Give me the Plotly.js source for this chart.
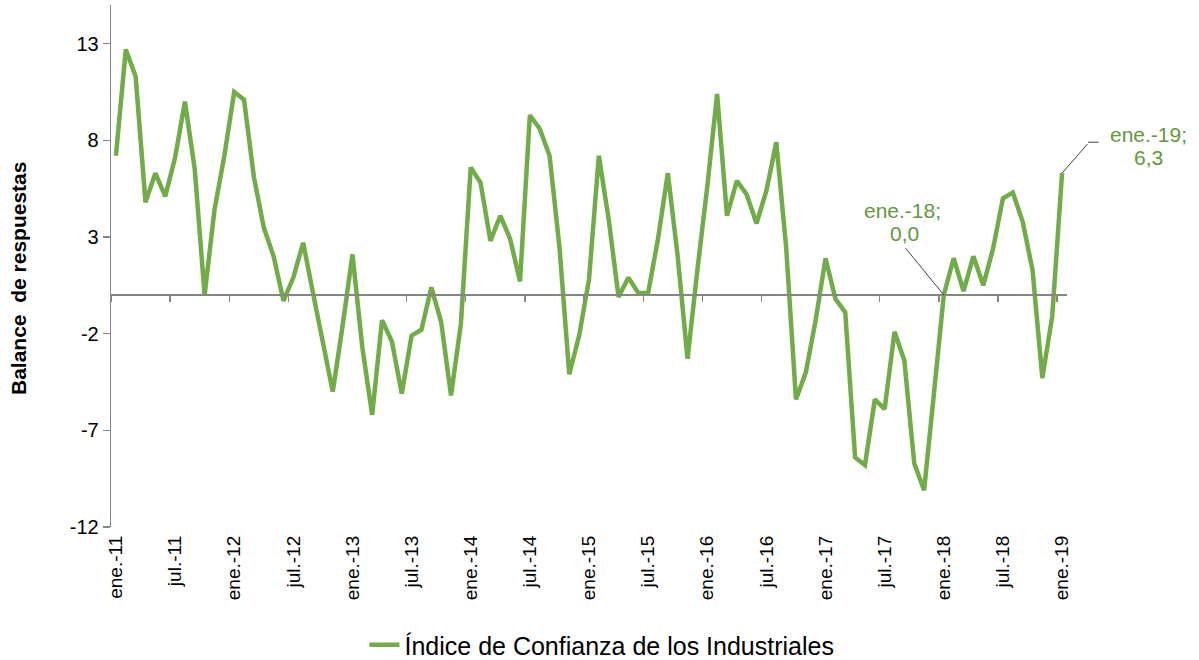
<!DOCTYPE html>
<html>
<head>
<meta charset="utf-8">
<script src="https://cdn.plot.ly/plotly-3.0.1.min.js"></script>
<style>html,body{margin:0;padding:0;background:#fff;}</style>
</head>
<body>
<div id="chart" style="width:1199px;height:660px;"></div>
<script>
// ---- data ----
const monthNames = ['ene.','feb.','mar.','abr.','may.','jun.','jul.','ago.','sep.','oct.','nov.','dic.'];
const startYear = 11;
const seriesName = 'Índice de Confianza de los Industriales';
const yTitle = 'Balance\u00a0 de respuestas';
const values = [
  7.2, 12.7, 11.3, 4.8, 6.3, 5.1, 7.1, 10.0, 6.5, 0.0, 4.4, 7.2,
  10.5, 10.1, 6.1, 3.5, 2.0, -0.3, 0.9, 2.7, 0.1, -2.5, -5.0, -1.6,
  2.1, -2.7, -6.2, -1.3, -2.4, -5.1, -2.1, -1.8, 0.4, -1.4, -5.2, -1.5,
  6.6, 5.8, 2.8, 4.1, 2.9, 0.7, 9.3, 8.6, 7.2, 2.5, -4.1, -2.1,
  0.8, 7.2, 3.9, -0.1, 0.9, 0.1, 0.1, 2.9, 6.3, 2.0, -3.3, 1.3,
  5.6, 10.4, 4.1, 5.9, 5.2, 3.7, 5.4, 7.9, 2.5, -5.4, -4.0, -1.3,
  1.9, -0.2, -0.9, -8.4, -8.8, -5.4, -5.9, -1.9, -3.4, -8.7, -10.1, -5.1,
  0.0, 1.9, 0.2, 2.0, 0.5, 2.4, 5.0, 5.3, 3.8, 1.3, -4.3, -1.1,
  6.3
];
const yTickVals = [-12, -7, -2, 3, 8, 13];
const yRange = [-12, 15];
const labelStep = 6;
const labeledPoints = [84, 96]; // ene.-18 and ene.-19

// ---- derived ----
const labels = values.map((v, i) => monthNames[i % 12] + '-' + (startYear + Math.floor(i / 12)));
const idx = values.map((v, i) => i);
const tickIdx = idx.filter(i => i % labelStep === 0);
const tickText = tickIdx.map(i => labels[i]);
const boundaryTicks = tickIdx.map(i => i - 0.5);
const yTickText = yTickVals.map(v => String(v));
const fmt = v => v.toFixed(1).replace('.', ',');

const FONT = 'Liberation Sans, Arial, sans-serif';
const GREEN = '#70AD47';
const LABEL_GREEN = '#5f9a3b';
const AXIS = '#868686';
const xRange = [-0.5, values.length - 0.5];

const traces = [
  {
    x: idx, y: values, type: 'scatter', mode: 'lines', name: seriesName,
    line: {color: GREEN, width: 4.5}, hoverinfo: 'skip'
  },
  {
    x: [], y: [], type: 'scatter', mode: 'lines', xaxis: 'x2', yaxis: 'y',
    showlegend: false, hoverinfo: 'skip'
  }
];

const p1 = labeledPoints[0], p2 = labeledPoints[1];
const lblFont = {family: FONT, size: 21, color: LABEL_GREEN};
const annotations = [
  // y-axis title
  {x: 0, y: (527 - 279) / 522, xref: 'paper', yref: 'paper', xanchor: 'center', yanchor: 'middle',
   xshift: -93, text: '<b>' + yTitle + '</b>', textangle: -90, showarrow: false,
   font: {family: FONT, size: 21, color: '#000'}},
  // ene.-18 label
  {x: p1, y: values[p1], xref: 'x', yref: 'y', text: labels[p1] + ';', showarrow: false,
   xshift: -41, yshift: 85, borderpad: 0, font: lblFont},
  {x: p1, y: values[p1], xref: 'x', yref: 'y', text: fmt(values[p1]), showarrow: false,
   xshift: -39, yshift: 62, borderpad: 0, font: lblFont},
  {x: p1, y: values[p1], xref: 'x', yref: 'y', text: ' ', showarrow: true, arrowhead: 0,
   arrowwidth: 1, arrowcolor: '#404040', ax: -40, ay: -49, standoff: 0, font: {size: 1}},
  // ene.-19 label
  {x: p2, y: values[p2], xref: 'x', yref: 'y', text: labels[p2] + ';', showarrow: false,
   xshift: 86, yshift: 39, borderpad: 0, font: lblFont},
  {x: p2, y: values[p2], xref: 'x', yref: 'y', text: fmt(values[p2]), showarrow: false,
   xshift: 86, yshift: 16, borderpad: 0, font: lblFont},
  {x: p2, y: values[p2], xref: 'x', yref: 'y', text: ' ', showarrow: true, arrowhead: 0,
   arrowwidth: 1, arrowcolor: '#404040', ax: 27, ay: -31, standoff: 0, font: {size: 1}},
  {x: p2, y: values[p2], xref: 'x', yref: 'y', text: ' ', showarrow: true, arrowhead: 0,
   arrowwidth: 1, arrowcolor: '#404040', ax: 12, ay: 0, xshift: 26, yshift: 31, standoff: 0, font: {size: 1}}
];

const layout = {
  width: 1199, height: 660,
  margin: {l: 111, r: 132, t: 5, b: 133, pad: 0},
  paper_bgcolor: '#fff', plot_bgcolor: '#fff',
  font: {family: FONT, color: '#000'},
  showlegend: true,
  legend: {orientation: 'h', x: 602 / 1199, xref: 'container', xanchor: 'center',
           y: 15 / 660, yref: 'container', yanchor: 'middle',
           font: {family: FONT, size: 25, color: '#000'}},
  xaxis: {
    range: xRange, tickmode: 'array', tickvals: tickIdx, ticktext: tickText, tickangle: -90,
    ticks: '', showline: false, showgrid: false, zeroline: false, ticklabelstandoff: 4,
    tickfont: {family: FONT, size: 19, color: '#000'}, fixedrange: true
  },
  xaxis2: {
    overlaying: 'x', anchor: 'free', position: (0 - yRange[0]) / (yRange[1] - yRange[0]),
    range: xRange, tickmode: 'array', tickvals: boundaryTicks, ticks: 'outside', ticklen: 6,
    tickwidth: 1.3, tickcolor: AXIS, showticklabels: false, showline: true, linecolor: AXIS,
    linewidth: 2, showgrid: false, zeroline: false, fixedrange: true
  },
  yaxis: {
    range: yRange, tickmode: 'array', tickvals: yTickVals, ticktext: yTickText,
    ticks: 'outside', ticklen: 7,
    tickwidth: 1.3, tickcolor: AXIS, showline: true, linecolor: AXIS, linewidth: 1.3,
    showgrid: false, zeroline: false,
    tickfont: {family: FONT, size: 20, color: '#000'},
    fixedrange: true
  },
  annotations: annotations
};

Plotly.newPlot('chart', traces, layout, {displayModeBar: false, staticPlot: true});
</script>
</body>
</html>
